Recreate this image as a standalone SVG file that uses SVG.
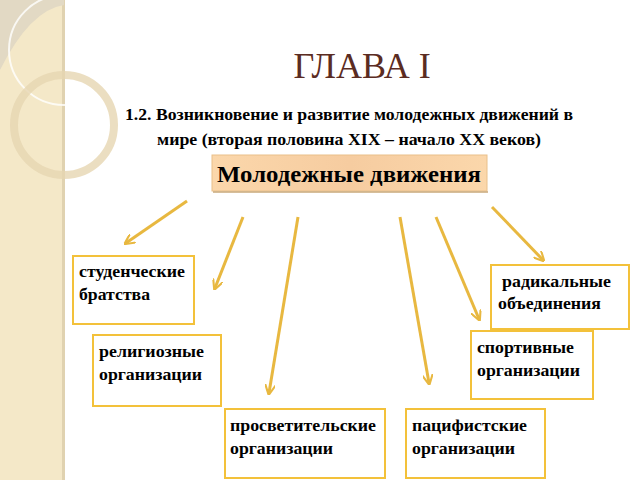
<svg xmlns="http://www.w3.org/2000/svg" width="640" height="480" viewBox="0 0 640 480">
<defs>
<style>
.box{fill:#fff;stroke:#f3c13a;stroke-width:2}
.lbl{font-family:'Liberation Serif','Times New Roman',serif;font-weight:bold;font-size:16px;fill:#000}
.con{stroke:#e8b840;stroke-width:3;fill:none;marker-end:url(#ah)}
</style>
<marker id="ah" viewBox="0 0 10 10" refX="8" refY="5" markerWidth="3.5" markerHeight="3.5" orient="auto"><path d="M0,0 L10,5 L0,10" fill="none" stroke="#e8b840" stroke-width="2"/></marker>
<linearGradient id="cg" x1="0" y1="0" x2="1" y2="0"><stop offset="0" stop-color="#fbd7ab"/><stop offset="0.5" stop-color="#f6cca0"/><stop offset="1" stop-color="#fbd7ab"/></linearGradient>
</defs>
<rect width="640" height="480" fill="#fff"/>
<g id="band">
<rect x="0" y="0" width="64" height="480" fill="#f4e8c8"/>
<rect x="62" y="0" width="3" height="480" fill="#e0d2b0"/>
<path d="M0,70 Q30,10 64,5 L64,0 L0,0Z" fill="#e2d9c4"/>
<circle cx="64" cy="50" r="55" fill="none" stroke="#fff" stroke-width="2" opacity="0.8"/>
<circle cx="64" cy="125" r="50" fill="none" stroke="#e6d6b2" stroke-width="8" opacity="0.8"/>
</g>
<text x="362" y="78" text-anchor="middle" font-family="'Liberation Serif',serif" font-size="36" fill="#5b2c22">ГЛАВА I</text>
<text x="349" y="120" text-anchor="middle" class="lbl" textLength="448" lengthAdjust="spacingAndGlyphs">1.2. Возникновение и развитие молодежных движений в</text>
<text x="349" y="145" text-anchor="middle" class="lbl" textLength="384" lengthAdjust="spacingAndGlyphs">мире (вторая половина XIX – начало XX веков)</text>
<g id="root">
<rect x="212" y="155" width="275" height="36" fill="url(#cg)" stroke="#e9c08a" stroke-width="1"/>
<line x1="213" y1="192" x2="488" y2="192" stroke="#c9a87a" stroke-width="1.5"/>
<text x="349" y="182" text-anchor="middle" font-family="'Liberation Serif',serif" font-weight="bold" font-size="23" fill="#000" textLength="264" lengthAdjust="spacingAndGlyphs">Молодежные движения</text>
</g>
<g id="connectors">
<line class="con" x1="187" y1="201" x2="126" y2="243"/>
<line class="con" x1="243" y1="217" x2="215" y2="288"/>
<line class="con" x1="298" y1="217" x2="269" y2="393"/>
<line class="con" x1="400" y1="217" x2="429" y2="383"/>
<line class="con" x1="436" y1="217" x2="479" y2="319"/>
<line class="con" x1="492" y1="207" x2="543" y2="260"/>
</g>
<g id="n1"><rect class="box" x="73" y="256" width="121" height="68"/><text class="lbl" x="79" y="277" textLength="106" lengthAdjust="spacingAndGlyphs">студенческие</text><text class="lbl" x="79" y="300" textLength="71" lengthAdjust="spacingAndGlyphs">братства</text></g>
<g id="n2"><rect class="box" x="491" y="265" width="138" height="64"/><text class="lbl" x="502" y="287" textLength="109" lengthAdjust="spacingAndGlyphs">радикальные</text><text class="lbl" x="498" y="309" textLength="103" lengthAdjust="spacingAndGlyphs">объединения</text></g>
<g id="n3"><rect class="box" x="93" y="335" width="128" height="71"/><text class="lbl" x="99" y="357" textLength="105" lengthAdjust="spacingAndGlyphs">религиозные</text><text class="lbl" x="99" y="380" textLength="103" lengthAdjust="spacingAndGlyphs">организации</text></g>
<g id="n4"><rect class="box" x="471" y="331" width="122" height="68"/><text class="lbl" x="477" y="353" textLength="97" lengthAdjust="spacingAndGlyphs">спортивные</text><text class="lbl" x="477" y="376" textLength="103" lengthAdjust="spacingAndGlyphs">организации</text></g>
<g id="n5"><rect class="box" x="225" y="409" width="160" height="69"/><text class="lbl" x="230" y="431" textLength="146" lengthAdjust="spacingAndGlyphs">просветительские</text><text class="lbl" x="230" y="454" textLength="103" lengthAdjust="spacingAndGlyphs">организации</text></g>
<g id="n6"><rect class="box" x="406" y="409" width="139" height="69"/><text class="lbl" x="412" y="431" textLength="115" lengthAdjust="spacingAndGlyphs">пацифистские</text><text class="lbl" x="412" y="454" textLength="103" lengthAdjust="spacingAndGlyphs">организации</text></g>
</svg>
